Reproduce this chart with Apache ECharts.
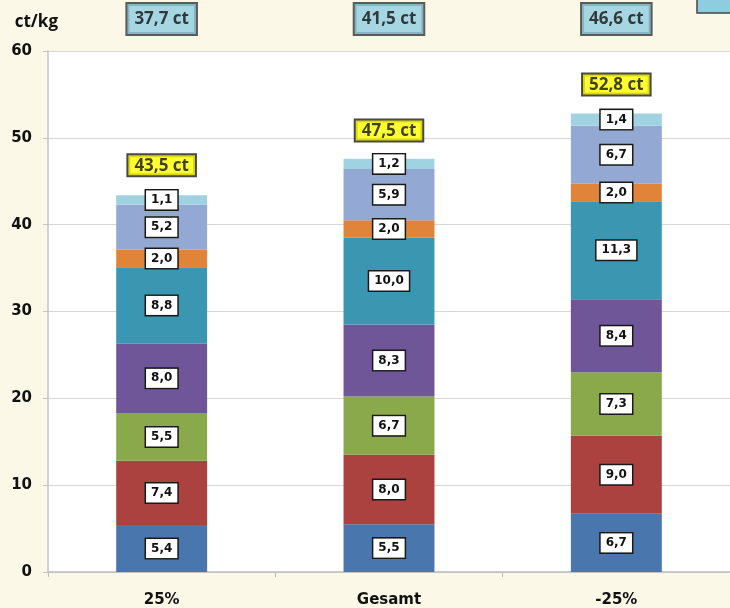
<!DOCTYPE html>
<html><head><meta charset="utf-8">
<script src="https://cdn.jsdelivr.net/npm/echarts@6/dist/echarts.min.js"></script>
<style>html,body{margin:0;padding:0;background:#fcf8e8}#c{width:730px;height:608px}</style>
</head><body><div id="c"></div>
<script>
const categories = ['25%', 'Gesamt', '-25%'];
const seg1 = [5.4, 5.5, 6.7];
const seg2 = [7.4, 8.0, 9.0];
const seg3 = [5.5, 6.7, 7.3];
const seg4 = [8.0, 8.3, 8.4];
const seg5 = [8.8, 10.0, 11.3];
const seg6 = [2.0, 2.0, 2.0];
const seg7 = [5.2, 5.9, 6.7];
const seg8 = [1.1, 1.2, 1.4];
const totals = [43.5, 47.5, 52.8];
const topValues = [37.7, 41.5, 46.6];
const yTicks = [0, 10, 20, 30, 40, 50, 60];

const segments = [seg1, seg2, seg3, seg4, seg5, seg6, seg7, seg8];
const colors = ['#4a76ae', '#ab4240', '#89a94b', '#6f5699', '#3a96b1', '#e0843a', '#93a8d3', '#9fd3e1'];
const fmt = v => v.toFixed(1).replace('.', ',');

const series = segments.map((d, i) => ({
  type: 'bar', stack: 'a', data: d, barWidth: '40%',
  itemStyle: { color: colors[i] },
  label: {
    show: true, position: 'inside',
    formatter: p => fmt(p.value),
    fontFamily: 'DejaVu Sans', fontWeight: 'bold', fontSize: 12, color: '#111',
    backgroundColor: '#fff', borderColor: '#1a1a1a', borderWidth: 1.5, padding: [4, 5, 3, 5]
  }
}));
series.push({
  type: 'scatter', data: totals, symbolSize: 0, silent: true,
  label: {
    show: true, position: 'top', distance: 19,
    formatter: p => fmt(p.value) + ' ct',
    fontFamily: 'Open Sans', fontWeight: 'bold', fontSize: 17, color: '#111',
    backgroundColor: '#ffff00', borderColor: '#1a1a1a', borderWidth: 2, padding: [2, 6, 1, 6]
  }
});
series.push({
  type: 'scatter', data: topValues.map(() => yTicks[yTicks.length - 1]), symbolSize: 0, silent: true,
  label: {
    show: true, position: 'top', distance: 17,
    formatter: p => fmt(topValues[p.dataIndex]) + ' ct',
    fontFamily: 'Open Sans', fontWeight: 'bold', fontSize: 17, color: '#111',
    backgroundColor: '#8ecde0', borderColor: '#333', borderWidth: 2, padding: [7, 7, 6, 7]
  }
});

const chart = echarts.init(document.getElementById('c'));
chart.setOption({
  animation: false,
  backgroundColor: '#fcf8e8',
  grid: { left: 48, right: 0, top: 51, bottom: 36, show: true, backgroundColor: '#ffffff', borderWidth: 0 },
  xAxis: {
    type: 'category', data: categories,
    axisLine: { lineStyle: { color: '#bdbdbd', width: 1.5 } },
    axisTick: { show: true, length: 5, lineStyle: { color: '#bdbdbd' } },
    axisLabel: { fontFamily: 'DejaVu Sans', fontWeight: 'bold', fontSize: 15, color: '#111', margin: 21 }
  },
  yAxis: {
    type: 'value', min: yTicks[0], max: yTicks[yTicks.length - 1], interval: 10,
    name: 'ct/kg', nameLocation: 'end', nameGap: 20,
    nameTextStyle: { fontFamily: 'Open Sans', fontWeight: 'bold', fontSize: 17, color: '#111', align: 'right', padding: [0, -10, 0, 0] },
    axisLine: { show: true, lineStyle: { color: '#c4c4c4', width: 1.5 } },
    axisTick: { show: true, length: 5, lineStyle: { color: '#c4c4c4' } },
    splitLine: { lineStyle: { color: '#d6d6d6' } },
    axisLabel: { fontFamily: 'DejaVu Sans', fontWeight: 'bold', fontSize: 15, color: '#111', margin: 16 }
  },
  graphic: [{
    type: 'rect', shape: { x: 697, y: -4, width: 40, height: 17 },
    style: { fill: '#8ecde0', stroke: '#444', lineWidth: 1.5 }
  }],
  series: series
});
</script></body></html>
